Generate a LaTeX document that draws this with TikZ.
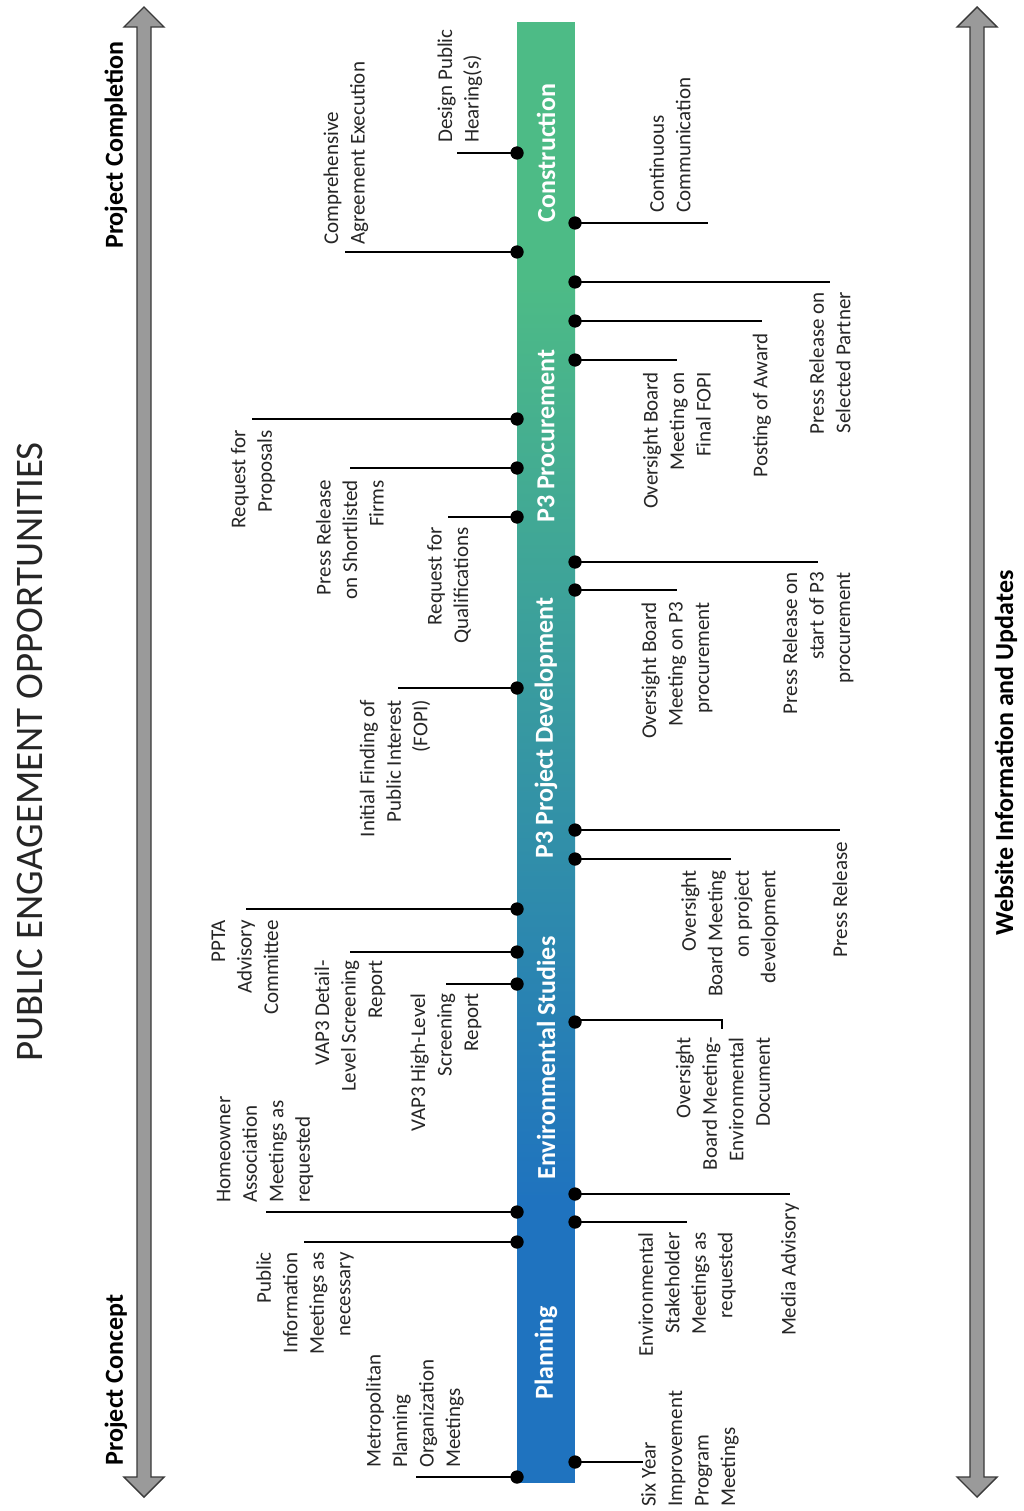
\documentclass[tikz,border=0pt]{standalone}
\usepackage{fontspec}
\setmainfont{Carlito}
\definecolor{barblue}{HTML}{1F73BF}
\definecolor{bargreen}{HTML}{4DBB86}
\definecolor{arrowgray}{HTML}{9A9A9A}
\definecolor{arrowline}{HTML}{3A3A3A}
\definecolor{txt}{HTML}{262626}
\newcommand\lblfont{\fontsize{21}{26.5}\selectfont}
\newcommand\phasefont{\fontsize{26}{28}\selectfont\bfseries}
\begin{document}
\begin{tikzpicture}[x=1pt,y=-1pt,
  lbl/.style={rotate=90, inner sep=0pt, font=\lblfont, text=txt},
  lblL/.style={lbl, anchor=west, align=left},
  lblR/.style={lbl, anchor=east, align=right},
  phase/.style={rotate=90, inner sep=0pt, font=\phasefont, text=white},
  side/.style={rotate=90, inner sep=0pt, font=\fontsize{26}{28}\selectfont\bfseries, text=black},
  dot/.style={circle, fill=black, inner sep=0pt, minimum size=13pt},
  tick/.style={line width=1.3pt, draw=black},
  bigarrow/.style={fill=arrowgray, draw=arrowline, line width=1.4pt, line join=miter}]
\useasboundingbox (0,0) rectangle (1023,1511);
\fill[white] (0,0) rectangle (1023,1511);

% title and side captions
\node[rotate=90, inner sep=0pt, font=\fontsize{39}{40}\selectfont, text=txt] (title) at (30,752) {PUBLIC ENGAGEMENT OPPORTUNITIES};
\node[side] (pcompl) at (116,145) {Project Completion};
\node[side] (pconc) at (116,1380) {Project Concept};
\node[side] (web) at (1006,753) {Website Information and Updates};

% double arrows
\draw[bigarrow] (137,27) -- (124,27) -- (144,7) -- (164,27) -- (151,27) -- (151,1477) -- (164,1477) -- (144,1497) -- (124,1477) -- (137,1477) -- cycle;
\draw[bigarrow] (970,27) -- (957,27) -- (977,7) -- (997,27) -- (984,27) -- (984,1477) -- (997,1477) -- (977,1497) -- (957,1477) -- (970,1477) -- cycle;

% central bar
\fill[bargreen] (517,22) rectangle (575,284);
\shade[top color=bargreen, bottom color=barblue] (517,283) rectangle (575,1201);
\fill[barblue] (517,1200) rectangle (575,1483);

\node[phase] (ph1) at (546,153) {Construction};
\node[phase] (ph2) at (546,436) {P3 Procurement};
\node[phase] (ph3) at (546,728) {P3 Project Development};
\node[phase] (ph4) at (546,1058) {Environmental Studies};
\node[phase] (ph5) at (546,1353) {Planning};

% left-side events
\foreach \n/\y/\e in {1/153/457, 2/252/345, 3/419/252, 4/468/350, 5/517/448, 6/688/398, 7/909/246, 8/952/350, 9/984/446, 10/1212/266, 11/1242/304, 12/1477/416}{
  \coordinate (el\n) at (\e,\y);
  \node[dot] (dl\n) at (517,\y) {};
  \draw[tick] (dl\n.center) -- (el\n);
  \fill (dl\n) circle (6.5pt);
}

% right-side events
\foreach \n/\y/\e in {1/223/708, 2/282/830, 3/321/762, 4/360/677, 5/562/818, 6/590/677, 7/830/840, 8/859/731, 10/1194/790, 11/1222/687, 12/1462/643}{
  \coordinate (er\n) at (\e,\y);
  \node[dot] (dr\n) at (575,\y) {};
  \draw[tick] (dr\n.center) -- (er\n);
  \fill (dr\n) circle (6.5pt);
}
\coordinate (er9) at (722,1020);
\coordinate (er9b) at (722,1029);
\node[dot] (dr9) at (575,1022) {};
\draw[tick] (dr9.center) |- (er9) -- (er9b);
\fill (dr9) circle (6.5pt);

% left labels
\node[lblL] (tl1) at (460,143) {Design Public\\Hearing(s)};
\node[lblL] (tl2) at (346,245) {Comprehensive\\Agreement Execution};
\node[lblR] (tl3) at (253,430) {Request for\\Proposals};
\node[lblR] (tl4) at (350,480) {Press Release\\on Shortlisted\\Firms};
\node[lblR] (tl5) at (449,527) {Request for\\Qualifications};
\node[lblR] (tl6) at (395,700) {Initial Finding of\\Public Interest\\(FOPI)};
\node[lblR] (tl7) at (245,920) {PPTA\\Advisory\\Committee};
\node[lblR] (tl8) at (350,960) {VAP3 Detail-\\Level Screening\\Report};
\node[lblR] (tl9) at (446,993) {VAP3 High-Level\\Screening\\Report};
\node[lblL] (tl10) at (265,1203) {Homeowner\\Association\\Meetings as\\requested};
\node[lblR] (tl11) at (305,1252) {Public\\Information\\Meetings as\\necessary};
\node[lblL] (tl12) at (415,1468) {Metropolitan\\Planning\\Organization\\Meetings};

% right labels
\node[lblL] (tr1) at (670,213) {Continuous\\Communication};
\node[lblR] (tr2) at (830,292) {Press Release on\\Selected Partner};
\node[lblR] (tr3) at (762,333) {Posting of Award};
\node[lblR] (tr4) at (677,372) {Oversight Board\\Meeting on\\Final FOPI};
\node[lblR] (tr5) at (818,572) {Press Release on\\start of P3\\procurement};
\node[lblR] (tr6) at (677,602) {Oversight Board\\Meeting on P3\\procurement};
\node[lblR] (tr7) at (840,842) {Press Release};
\node[lblR] (tr8) at (730,870) {Oversight\\Board Meeting\\on project\\development};
\node[lblR] (tr9) at (723,1037) {Oversight\\Board Meeting-\\Environmental\\Document};
\node[lblR] (tr10) at (687,1232) {Environmental\\Stakeholder\\Meetings as\\requested};
\node[lblR] (tr11) at (790,1203) {Media Advisory};
\node[lblL] (tr12) at (690,1507) {Six Year\\Improvement\\Program\\Meetings};
\end{tikzpicture}
\end{document}
